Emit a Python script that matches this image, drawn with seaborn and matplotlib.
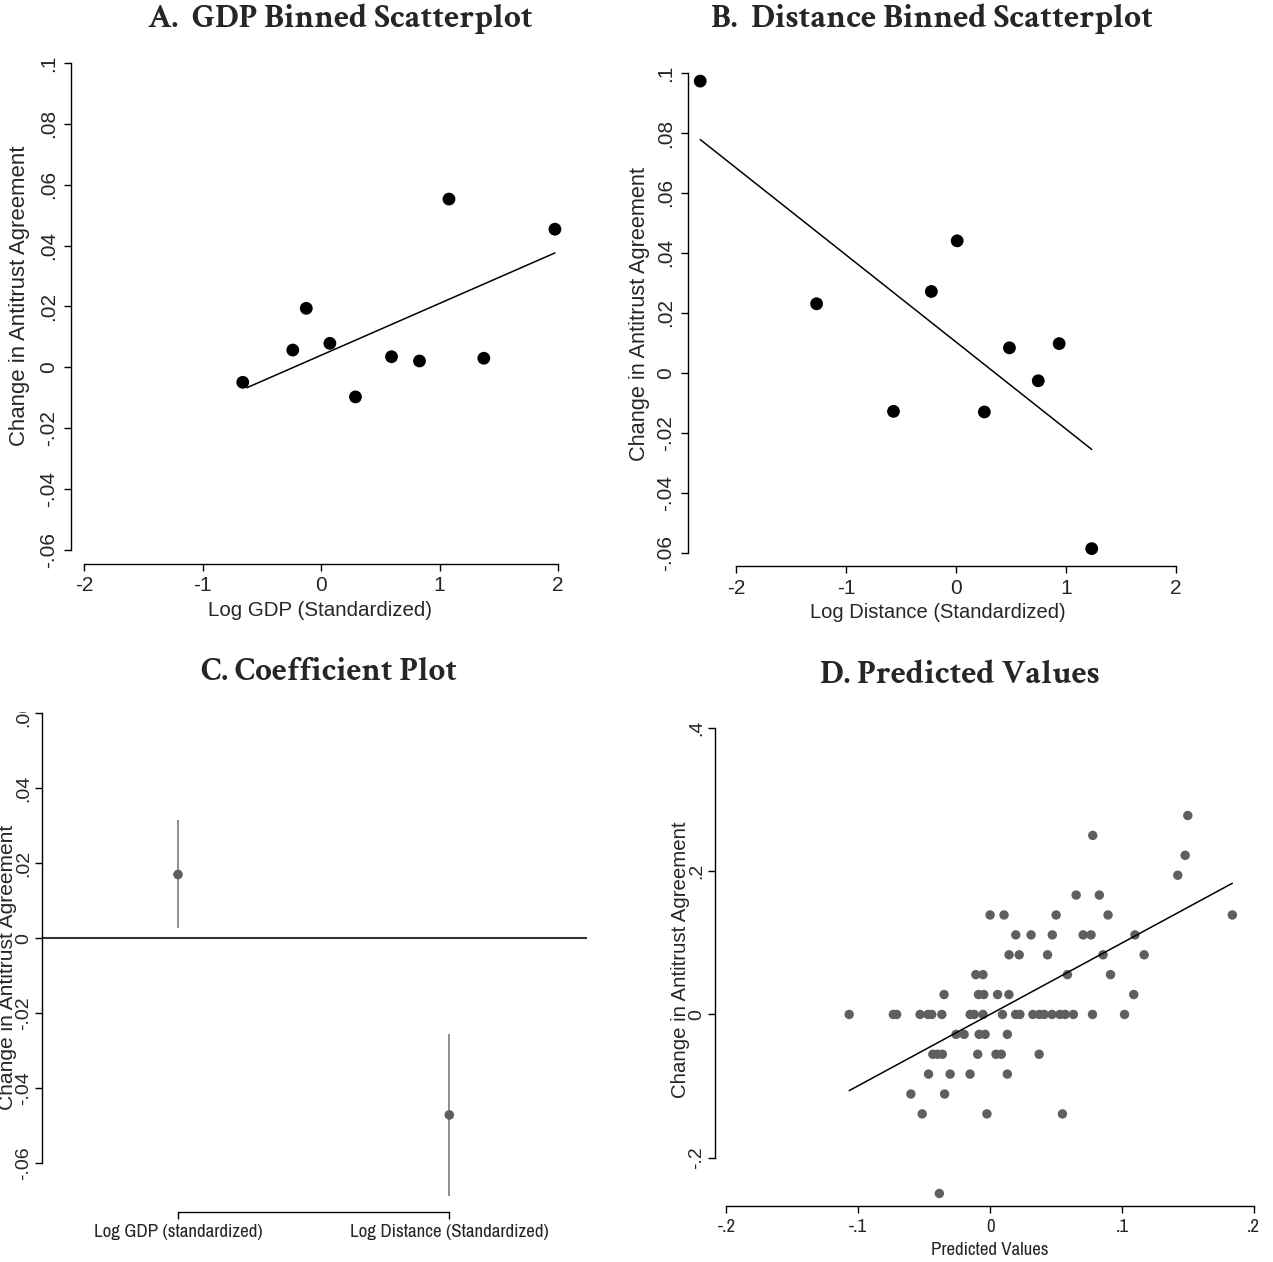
import matplotlib
matplotlib.use("Agg")
import matplotlib.pyplot as plt
from matplotlib import font_manager
from matplotlib.font_manager import FontProperties
from matplotlib.transforms import Bbox, TransformedBbox
import seaborn as sns

sns.set_style("ticks")
plt.rcParams['font.family'] = ['Liberation Sans', 'DejaVu Sans']

W, H, DPI = 1273, 1262, 100

## Data ##

# A. GDP binned scatterplot
gdp_x = [-0.661, -0.239, -0.125, 0.074, 0.290, 0.594, 0.830, 1.079, 1.373, 1.973]
gdp_y = [-0.0049, 0.0057, 0.0194, 0.0079, -0.0097, 0.0035, 0.0021, 0.0553, 0.0030, 0.0454]
gdp_fit_x = [-0.627, 1.973]
gdp_fit_y = [-0.0067, 0.0376]

# B. Distance binned scatterplot
dist_x = [-2.325, -1.267, -0.568, -0.224, 0.011, 0.258, 0.486, 0.748, 0.938, 1.234]
dist_y = [0.0973, 0.0230, -0.0129, 0.0271, 0.0440, -0.0131, 0.0083, -0.0027, 0.0097, -0.0587]
dist_fit_x = [-2.325, 1.234]
dist_fit_y = [0.0778, -0.0256]

ab_xticks = [-2, -1, 0, 1, 2]
ab_xticklabels = ['-2', '-1', '0', '1', '2']
ab_yticks = [-0.06, -0.04, -0.02, 0, 0.02, 0.04, 0.06, 0.08, 0.1]
ab_yticklabels = ['-.06', '-.04', '-.02', '0', '.02', '.04', '.06', '.08', '.1']

# C. Coefficient plot
coef_names = ['Log GDP (standardized)', 'Log Distance (Standardized)']
coef_est = [0.0170, -0.0471]
coef_lo = [0.0027, -0.0688]
coef_hi = [0.0315, -0.0254]
c_yticks = [-0.06, -0.04, -0.02, 0, 0.02, 0.04, 0.06]
c_yticklabels = ['-.06', '-.04', '-.02', '0', '.02', '.04', '.06']

# D. Predicted values (predicted, actual)
pred_x = [0.150,
          0.0779,
          0.148,
          0.1424,
          0.0653, 0.0829,
          0.0, 0.0106, 0.0501, 0.0895, 0.1838,
          0.0195, 0.0311, 0.0472, 0.0706, 0.0766, 0.1099,
          0.0144, 0.0221, 0.0436, 0.0857, 0.1169,
          -0.0108, -0.0054, 0.0587, 0.0914,
          -0.0349, -0.0088, -0.0048, 0.0057, 0.0143, 0.1090,
          -0.1069, -0.0734, -0.0709, -0.0531, -0.0471, -0.0443, -0.0366, -0.0151, -0.0120,
          -0.0054, 0.0094, 0.0194, 0.0226, 0.0325, 0.0375, 0.0410, 0.0470, 0.0530, 0.0570,
          0.0632, 0.0777, 0.1020,
          -0.0258, -0.0197, -0.0083, -0.0038, 0.0131,
          -0.0434, -0.0400, -0.0362, -0.0094, 0.0045, 0.0085, 0.0372,
          -0.0467, -0.0303, -0.0152, 0.0131,
          -0.0601, -0.0345,
          -0.0515, -0.0024, 0.0549,
          -0.0385]
actual_y = [0.2778,
            0.25,
            0.2222,
            0.1944,
            0.1667, 0.1667,
            0.1389, 0.1389, 0.1389, 0.1389, 0.1389,
            0.1111, 0.1111, 0.1111, 0.1111, 0.1111, 0.1111,
            0.0833, 0.0833, 0.0833, 0.0833, 0.0833,
            0.0556, 0.0556, 0.0556, 0.0556,
            0.0278, 0.0278, 0.0278, 0.0278, 0.0278, 0.0278,
            0, 0, 0, 0, 0, 0, 0, 0, 0,
            0, 0, 0, 0, 0, 0, 0, 0, 0, 0,
            0, 0, 0,
            -0.0278, -0.0278, -0.0278, -0.0278, -0.0278,
            -0.0556, -0.0556, -0.0556, -0.0556, -0.0556, -0.0556, -0.0556,
            -0.0833, -0.0833, -0.0833, -0.0833,
            -0.1111, -0.1111,
            -0.1389, -0.1389, -0.1389,
            -0.25]
pred_fit_x = [-0.1069, 0.1838]
pred_fit_y = [-0.1064, 0.1832]
d_xticks = [-0.2, -0.1, 0, 0.1, 0.2]
d_xticklabels = ['-.2', '-.1', '0', '.1', '.2']
d_yticks = [-0.2, 0, 0.2, 0.4]
d_yticklabels = ['-.2', '0', '.2', '.4']

ylab = 'Change in Antitrust Agreement'
grey = '#5f5f5f'


## Fonts ##

def pick_font(families, weight):
    # first installed family with a static file of the wanted weight
    for fam in families:
        hits = [f for f in font_manager.fontManager.ttflist
                if f.name == fam and f.style == 'normal' and str(f.weight) == str(weight)]
        hits.sort(key=lambda f: '[' in f.fname)
        if hits:
            return hits[0].fname
    return None


narrow_file = pick_font(['Liberation Sans Narrow', 'Arial Narrow', 'Archivo Narrow', 'Roboto Condensed',
                         'PT Sans Narrow', 'IBM Plex Sans Condensed', 'Open Sans Condensed'], 400)
title_file = pick_font(['EB Garamond', 'Crimson Text', 'Cormorant Garamond', 'Liberation Serif'], 700)


def narrow_fp(size):
    if narrow_file:
        return FontProperties(fname=narrow_file, size=size)
    return FontProperties(family='Liberation Sans', size=size)


def title_fp(size):
    if title_file:
        return FontProperties(fname=title_file, size=size)
    return FontProperties(family='Liberation Serif', weight='bold', size=size)


fig = plt.figure(figsize=(W / DPI, H / DPI), dpi=DPI)
renderer = fig.canvas.get_renderer()


def text_len(t):
    bb = t.get_window_extent(renderer=renderer)
    return max(bb.width, bb.height)


def fit_text(t, target):
    # scale a text so that its long side is `target` pixels
    for _ in range(3):
        t.set_fontsize(t.get_fontsize() * target / text_len(t))


def add_panel(box):
    left, right, top, bottom = box
    return fig.add_axes([left / W, 1 - bottom / H, (right - left) / W, (bottom - top) / H])


def place_ylabel(ax, box, cx, cy):
    left, right, top, bottom = box
    ax.yaxis.set_label_coords((cx - left) / (right - left), (bottom - cy) / (bottom - top))
    ax.yaxis.label.set_va('center')


def place_xlabel(ax, box, cx, cy):
    left, right, top, bottom = box
    ax.xaxis.set_label_coords((cx - left) / (right - left), (bottom - cy) / (bottom - top))
    ax.xaxis.label.set_va('center')


def style_axes(ax, xb, yb):
    sns.despine(ax=ax)
    ax.spines['left'].set_bounds(*yb)
    ax.spines['bottom'].set_bounds(*xb)
    for s in ['left', 'bottom']:
        ax.spines[s].set_linewidth(1.0)
        ax.spines[s].set_color('black')
    ax.tick_params(direction='out', length=5, width=1.0, color='black')
    ax.set_facecolor('none')


# A #
box_a = (71, 570, 63, 564)
ax_a = add_panel(box_a)
sns.scatterplot(x=gdp_x, y=gdp_y, ax=ax_a, color='black', s=85, edgecolor='none', clip_on=False)
sns.lineplot(x=gdp_fit_x, y=gdp_fit_y, ax=ax_a, color='black', lw=1.1)
ax_a.set_xlim(-2.11, 2.10)
ax_a.set_ylim(-0.0646, 0.1)
style_axes(ax_a, (-2, 2), (-0.06, 0.1))
ax_a.set_xticks(ab_xticks, ab_xticklabels, fontsize=15)
ax_a.set_yticks(ab_yticks, ab_yticklabels, fontsize=15, rotation=90, va='center')
ax_a.tick_params(axis='y', pad=4)
ax_a.tick_params(axis='x', pad=4)
ax_a.set_xlabel('Log GDP (Standardized)', fontsize=15)
ax_a.set_ylabel(ylab, fontsize=15.5)
fit_text(ax_a.xaxis.label, 224)
fit_text(ax_a.yaxis.label, 300)
place_xlabel(ax_a, box_a, 320, 611)
place_ylabel(ax_a, box_a, 20, 296)

# B #
box_b = (688, 1186, 73, 566)
ax_b = add_panel(box_b)
sns.scatterplot(x=dist_x, y=dist_y, ax=ax_b, color='black', s=85, edgecolor='none', clip_on=False)
sns.lineplot(x=dist_fit_x, y=dist_fit_y, ax=ax_b, color='black', lw=1.1)
ax_b.set_xlim(-2.436, 2.091)
ax_b.set_ylim(-0.0645, 0.1)
style_axes(ax_b, (-2, 2), (-0.06, 0.1))
ax_b.set_xticks(ab_xticks, ab_xticklabels, fontsize=15)
ax_b.set_yticks(ab_yticks, ab_yticklabels, fontsize=15, rotation=90, va='center')
ax_b.tick_params(axis='y', pad=4)
ax_b.tick_params(axis='x', pad=4)
ax_b.set_xlabel('Log Distance (Standardized)', fontsize=15)
ax_b.set_ylabel(ylab, fontsize=15.5)
fit_text(ax_b.xaxis.label, 256)
fit_text(ax_b.yaxis.label, 294)
place_xlabel(ax_b, box_b, 938, 612)
place_ylabel(ax_b, box_b, 640, 314)

# C #
box_c = (41.7, 587, 711, 1211.7)
ax_c = add_panel(box_c)
coef_pos = list(range(len(coef_names)))
ax_c.axhline(0, color='#333333', lw=1.5, zorder=1)
ax_c.vlines(coef_pos, coef_lo, coef_hi, color='#707070', lw=1.1, zorder=2)
sns.scatterplot(x=coef_pos, y=coef_est, ax=ax_c, color=grey, s=48, edgecolor='none', zorder=3)
ax_c.set_xlim(-0.5024, 1.5076)
ax_c.set_ylim(-0.0729, 0.0606)
style_axes(ax_c, (0, 1), (-0.06, 0.06))
ax_c.set_xticks(coef_pos, coef_names)
ax_c.set_yticks(c_yticks, c_yticklabels, fontsize=14, rotation=90, va='center')
ax_c.tick_params(axis='y', pad=2)
ax_c.tick_params(axis='x', pad=4)
c_labels = ax_c.get_xticklabels()
for lab in c_labels:
    lab.set_fontproperties(narrow_fp(14))
fit_text(c_labels[0], 169)
for lab in c_labels[1:]:
    lab.set_fontsize(c_labels[0].get_fontsize())
ax_c.set_ylabel(ylab, fontsize=15)
fit_text(ax_c.yaxis.label, 285)
place_ylabel(ax_c, box_c, 8, 967)
# top tick label is cut off at the plot region like in the source figure
clip = TransformedBbox(Bbox.from_extents(0, 0, 1, 1 - 711.5 / H), fig.transFigure)
for lab in ax_c.get_yticklabels():
    lab.set_clip_on(True)
    lab.set_clip_box(clip)

# D #
box_d = (715, 1262, 728, 1206)
ax_d = add_panel(box_d)
sns.scatterplot(x=pred_x, y=actual_y, ax=ax_d, color=grey, s=46, edgecolor='none', clip_on=False)
sns.lineplot(x=pred_fit_x, y=pred_fit_y, ax=ax_d, color='black', lw=1.1)
ax_d.set_xlim(-0.2087, 0.2063)
ax_d.set_ylim(-0.2675, 0.4)
style_axes(ax_d, (-0.2, 0.2), (-0.2, 0.4))
ax_d.set_xticks(d_xticks, d_xticklabels)
ax_d.set_yticks(d_yticks, d_yticklabels, fontsize=14, rotation=90, va='center')
ax_d.tick_params(axis='y', pad=2)
ax_d.tick_params(axis='x', pad=4)
ax_d.set_xlabel('Predicted Values')
ax_d.xaxis.label.set_fontproperties(narrow_fp(14))
fit_text(ax_d.xaxis.label, 118)
for lab in ax_d.get_xticklabels():
    lab.set_fontproperties(narrow_fp(ax_d.xaxis.label.get_fontsize()))
place_xlabel(ax_d, box_d, 990, 1250)
ax_d.set_ylabel(ylab, fontsize=14.5)
fit_text(ax_d.yaxis.label, 276)
place_ylabel(ax_d, box_d, 680, 960)

# Titles #
titles = [(340, 19, 384, 'A.  GDP Binned Scatterplot'),
          (932, 19, 442, 'B.  Distance Binned Scatterplot'),
          (329, 672, 256, 'C. Coefficient Plot'),
          (960, 675, 280, 'D. Predicted Values')]
for cx, cy, width, txt in titles:
    t = fig.text(cx / W, 1 - cy / H, txt, ha='center', va='center', fontproperties=title_fp(23))
    fit_text(t, width)

fig.savefig('out.png', dpi=DPI, facecolor='white')
